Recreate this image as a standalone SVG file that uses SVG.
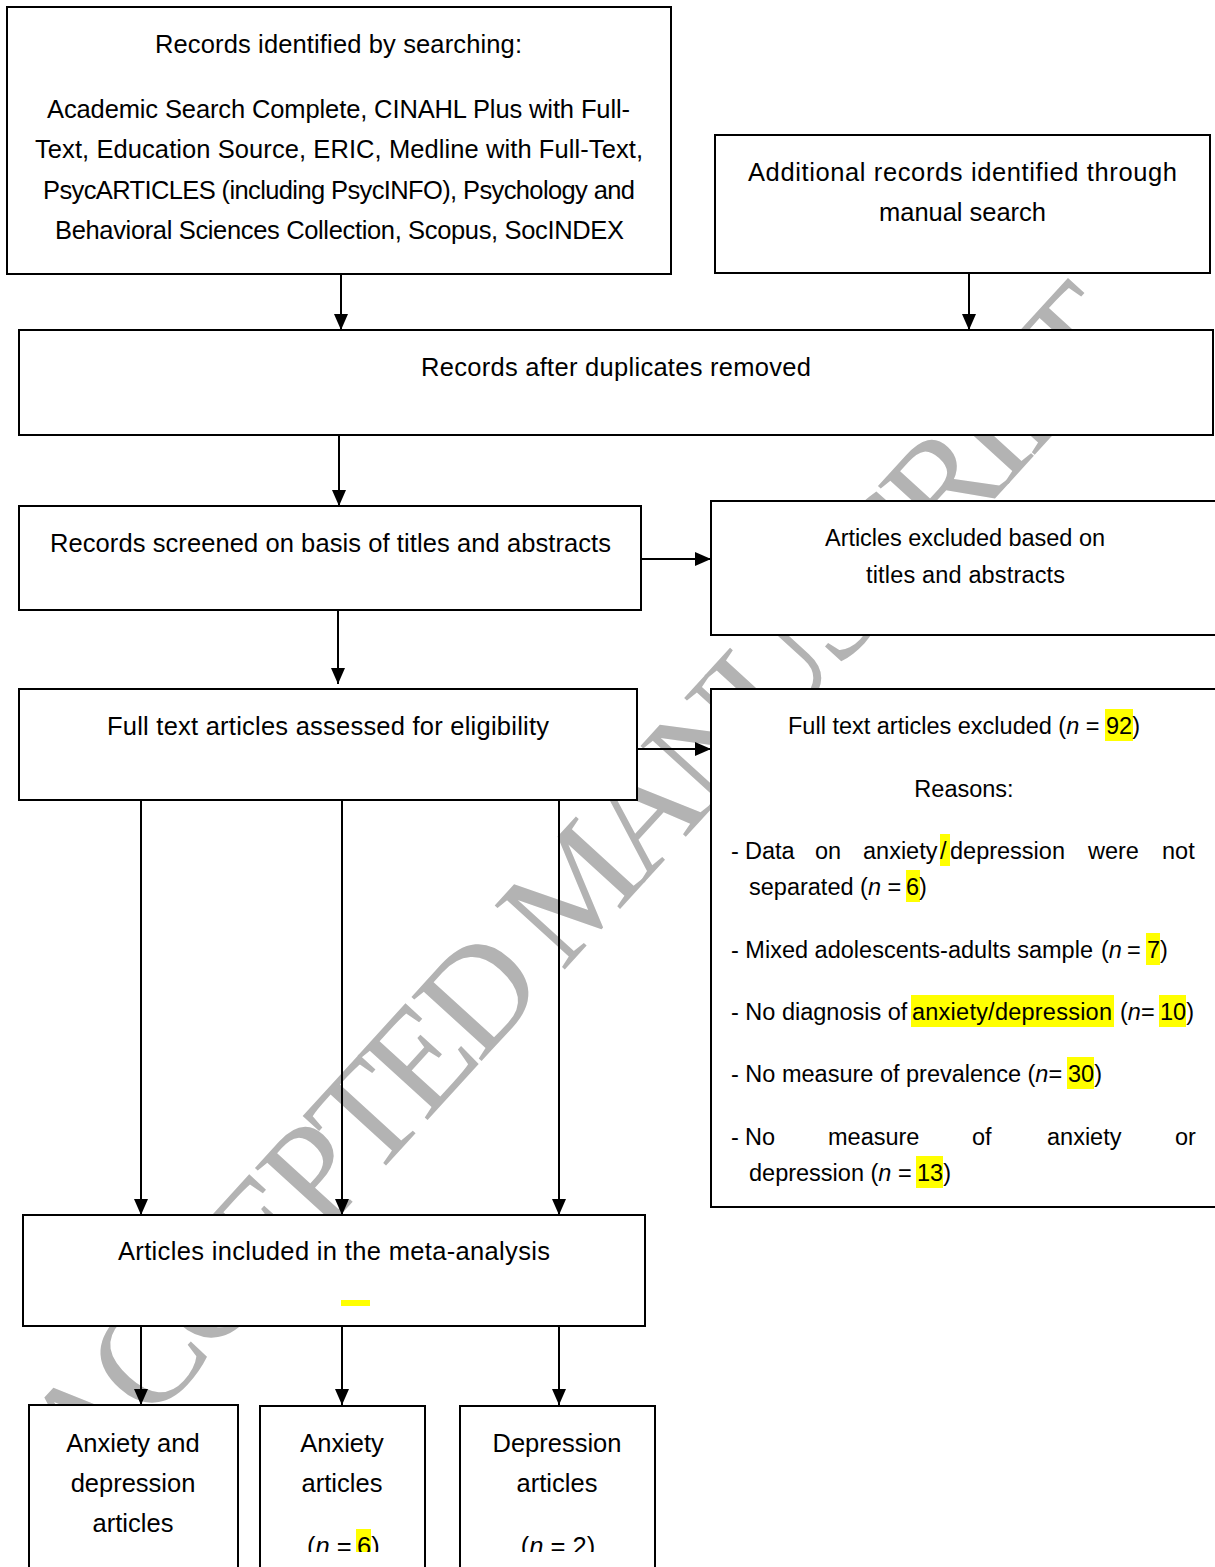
<svg xmlns="http://www.w3.org/2000/svg" width="1215" height="1567" viewBox="0 0 1215 1567">
<style>
.box{fill:#fff;stroke:#000;stroke-width:2}
.t{font-family:"Liberation Sans",Arial,sans-serif;font-size:25.5px;fill:#000}
.s{font-family:"Liberation Sans",Arial,sans-serif;font-size:23.5px;fill:#000}
.c{text-anchor:middle}
.i{font-style:italic}
.hl{fill:#ffff00}
.conn line{stroke:#000;stroke-width:2;marker-end:url(#ah)}
.wm{font-family:"Liberation Serif","Times New Roman",serif;font-size:145px;fill:#b3b3b3}
</style>
<defs>
<marker id="ah" markerUnits="userSpaceOnUse" viewBox="0 0 16 16" markerWidth="16" markerHeight="16" refX="16" refY="8" orient="auto">
<path d="M0,1 L16,8 L0,15 z" fill="#000"/>
</marker>
<clipPath id="bottomclip"><rect x="0" y="0" width="1215" height="1552"/></clipPath>
</defs>
<rect x="0" y="0" width="1215" height="1567" fill="#fff"/>
<g id="watermark">
<text class="wm" transform="translate(85,1495) rotate(-47.6)" textLength="1564" lengthAdjust="spacing">ACCEPTED MANUSCRIPT</text>
</g>
<g id="connectors" class="conn">
<line x1="341" y1="274" x2="341" y2="330"/>
<line x1="969" y1="273" x2="969" y2="330"/>
<line x1="339" y1="435" x2="339" y2="506"/>
<line x1="641" y1="559" x2="711" y2="559"/>
<line x1="338" y1="610" x2="338" y2="684"/>
<line x1="637" y1="749" x2="711" y2="749"/>
<line x1="141" y1="800" x2="141" y2="1215"/>
<line x1="342" y1="800" x2="342" y2="1215"/>
<line x1="559" y1="800" x2="559" y2="1215"/>
<line x1="141" y1="1326" x2="141" y2="1405"/>
<line x1="342" y1="1326" x2="342" y2="1405"/>
<line x1="559" y1="1326" x2="559" y2="1405"/>
</g>
<g id="n1">
<rect class="box" x="7" y="7" width="664" height="267"/>
<text class="t" x="155" y="53" textLength="367" lengthAdjust="spacing">Records identified by searching:</text>
<text class="t" x="47" y="118" textLength="583" lengthAdjust="spacing">Academic Search Complete, CINAHL Plus with Full-</text>
<text class="t" x="35" y="158" textLength="608" lengthAdjust="spacing">Text, Education Source, ERIC, Medline with Full-Text,</text>
<text class="t" x="43" y="199" textLength="592" lengthAdjust="spacing">PsycARTICLES (including PsycINFO), Psychology and</text>
<text class="t" x="55" y="239" textLength="569" lengthAdjust="spacing">Behavioral Sciences Collection, Scopus, SocINDEX</text>
</g>
<g id="n2">
<rect class="box" x="715" y="135" width="495" height="138"/>
<text class="t" x="748" y="181" textLength="429" lengthAdjust="spacing">Additional records identified through</text>
<text class="t" x="879" y="221" textLength="167" lengthAdjust="spacing">manual search</text>
</g>
<g id="n3">
<rect class="box" x="19" y="330" width="1194" height="105"/>
<text class="t" x="421" y="376" textLength="390" lengthAdjust="spacing">Records after duplicates removed</text>
</g>
<g id="n4">
<rect class="box" x="19" y="506" width="622" height="104"/>
<text class="t" x="50" y="552" textLength="561" lengthAdjust="spacing">Records screened on basis of titles and abstracts</text>
</g>
<g id="n5">
<rect class="box" x="711" y="501" width="510" height="134"/>
<text class="s" x="825" y="546" textLength="280" lengthAdjust="spacing">Articles excluded based on</text>
<text class="s" x="866" y="583" textLength="199" lengthAdjust="spacing">titles and abstracts</text>
</g>
<g id="n6">
<rect class="box" x="19" y="689" width="618" height="111"/>
<text class="t" x="107" y="735" textLength="442" lengthAdjust="spacing">Full text articles assessed for eligibility</text>
</g>
<g id="n7">
<rect class="box" x="711" y="689" width="510" height="518"/>
<rect class="hl" x="1105" y="709" width="28" height="32"/>
<rect class="hl" x="940" y="834" width="10" height="32"/>
<rect class="hl" x="906" y="870" width="14" height="32"/>
<rect class="hl" x="1146" y="933" width="14" height="32"/>
<rect class="hl" x="911" y="995" width="203" height="32"/>
<rect class="hl" x="1159" y="995" width="27" height="32"/>
<rect class="hl" x="1067" y="1057" width="27" height="32"/>
<rect class="hl" x="916" y="1156" width="27" height="32"/>
<text class="s" x="788" y="734">Full text articles excluded (<tspan class="i">n</tspan> = <tspan x="1106">92</tspan>)</text>
<text class="s c" x="964" y="797">Reasons:</text>
<text class="s" x="731" y="859">-<tspan x="745">Data</tspan><tspan x="815">on</tspan><tspan x="863">anxiety</tspan><tspan x="940">/</tspan><tspan x="950">depression</tspan><tspan x="1088">were</tspan><tspan x="1162">not</tspan></text>
<text class="s" x="749" y="895">separated (<tspan class="i">n</tspan> = <tspan x="906">6</tspan>)</text>
<text class="s" x="731" y="958" textLength="362" lengthAdjust="spacing">- Mixed adolescents-adults sample</text>
<text class="s" x="1101" y="958">(<tspan class="i">n</tspan></text>
<text class="s" x="1127" y="958">=</text>
<text class="s" x="1147" y="958">7)</text>
<text class="s" x="731" y="1020">- No diagnosis of</text>
<text class="s" x="912" y="1020" textLength="200" lengthAdjust="spacing">anxiety/depression</text>
<text class="s" x="1120" y="1020">(<tspan class="i">n</tspan>= <tspan x="1160">10</tspan>)</text>
<text class="s" x="731" y="1082">- No measure of prevalence (<tspan class="i">n</tspan>= <tspan x="1068">30</tspan>)</text>
<text class="s" x="731" y="1145">-<tspan x="745">No</tspan><tspan x="828">measure</tspan><tspan x="972">of</tspan><tspan x="1047">anxiety</tspan><tspan x="1175">or</tspan></text>
<text class="s" x="749" y="1181">depression (<tspan class="i">n</tspan> = <tspan x="917">13</tspan>)</text>
</g>
<g id="n8">
<rect class="box" x="23" y="1215" width="622" height="111"/>
<text class="t" x="118" y="1260" textLength="432" lengthAdjust="spacing">Articles included in the meta-analysis</text>
<rect class="hl" x="341" y="1300" width="29" height="6"/>
</g>
<g id="n9">
<rect class="box" x="29" y="1405" width="209" height="180"/>
<text class="t c" x="133" y="1452">Anxiety and</text>
<text class="t c" x="133" y="1492">depression</text>
<text class="t c" x="133" y="1532">articles</text>
</g>
<g id="n10">
<rect class="box" x="260" y="1406" width="165" height="180"/>
<text class="t c" x="342" y="1452">Anxiety</text>
<text class="t c" x="342" y="1492">articles</text>
<g clip-path="url(#bottomclip)">
<rect class="hl" x="356" y="1529" width="15" height="30"/>
<text class="t" x="307" y="1555">(<tspan class="i">n</tspan> = <tspan x="357">6</tspan>)</text>
</g>
</g>
<g id="n11">
<rect class="box" x="460" y="1406" width="195" height="180"/>
<text class="t c" x="557" y="1452">Depression</text>
<text class="t c" x="557" y="1492">articles</text>
<g clip-path="url(#bottomclip)">
<text class="t c" x="558" y="1555">(<tspan class="i">n</tspan> = 2)</text>
</g>
</g>
</svg>
